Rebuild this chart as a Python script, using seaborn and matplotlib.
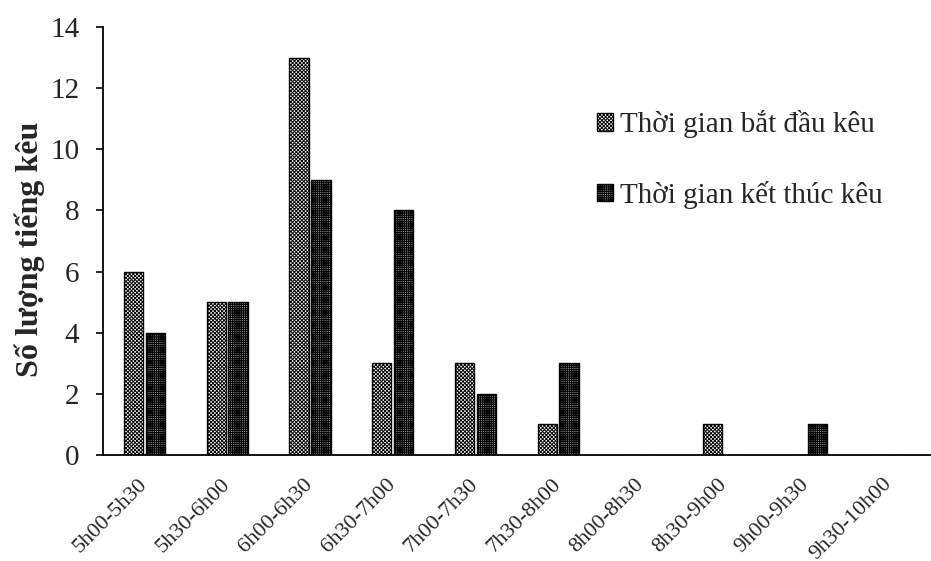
"""Bar chart: số lượng tiếng kêu theo khung giờ."""

import matplotlib

matplotlib.use("Agg")

import matplotlib.pyplot as plt
import pandas as pd
import seaborn as sns

TIME_SLOTS = [
    "5h00-5h30", "5h30-6h00", "6h00-6h30", "6h30-7h00", "7h00-7h30",
    "7h30-8h00", "8h00-8h30", "8h30-9h00", "9h00-9h30", "9h30-10h00",
]
START_COUNTS = [6, 5, 13, 3, 3, 1, 0, 1, 0, 0]
END_COUNTS = [4, 5, 9, 8, 2, 3, 0, 0, 1, 0]
SERIES = ["Thời gian bắt đầu kêu", "Thời gian kết thúc kêu"]
Y_TICKS = [0, 2, 4, 6, 8, 10, 12, 14]

sns.set_theme(style="white")
plt.rcParams["font.family"] = ["Liberation Serif", "DejaVu Serif"]
plt.rcParams["hatch.linewidth"] = 0.7

data = pd.DataFrame(
    {
        "slot": TIME_SLOTS * 2,
        "count": START_COUNTS + END_COUNTS,
        "series": [SERIES[0]] * len(TIME_SLOTS) + [SERIES[1]] * len(TIME_SLOTS),
    }
)

fig = plt.figure(figsize=(9.31, 5.61), dpi=100)
ax = fig.add_axes([0.1106, 0.189, 0.889, 0.763])

sns.barplot(
    data=data, x="slot", y="count", hue="series", order=TIME_SLOTS,
    hue_order=SERIES, width=0.53, gap=0.12, palette=["white", "#cccccc"],
    edgecolor="black", linewidth=1.0, ax=ax,
)

hatches = ["xxxxxxxxx", "+++++++++"]
for container, hatch in zip(ax.containers, hatches):
    for bar in container:
        bar.set_hatch(hatch)

ax.set_ylim(0, 14)
ax.set_xlim(-0.5, 9.5)
ax.set_yticks(Y_TICKS)
ax.set_yticklabels([str(v) for v in Y_TICKS], fontsize=21)
ax.set_xticks(range(len(TIME_SLOTS)))
ax.set_xticklabels(TIME_SLOTS, rotation=45, ha="right", va="center",
                   rotation_mode="anchor", fontsize=16)
ax.set_xlabel("")
ax.set_ylabel("Số lượng tiếng kêu", fontsize=23, fontweight="bold")
ax.yaxis.set_label_coords(-0.07, 0.48)

for side in ["top", "right"]:
    ax.spines[side].set_visible(False)
for side in ["left", "bottom"]:
    ax.spines[side].set_color("black")
    ax.spines[side].set_linewidth(1.3)
ax.tick_params(axis="y", direction="out", length=5, width=1.2, color="black",
               left=True, pad=12)
ax.tick_params(axis="x", length=0, pad=19)

handles, labels = ax.get_legend_handles_labels()
for h, hatch in zip(handles, hatches):
    h.set_hatch(hatch)
ax.legend(handles, labels, loc="upper left", bbox_to_anchor=(0.597, 0.805),
          frameon=False, fontsize=21, handlelength=0.55, handleheight=0.55,
          handletextpad=0.25, labelspacing=1.45, borderaxespad=0, borderpad=0)

fig.savefig("out.png", dpi=100)
